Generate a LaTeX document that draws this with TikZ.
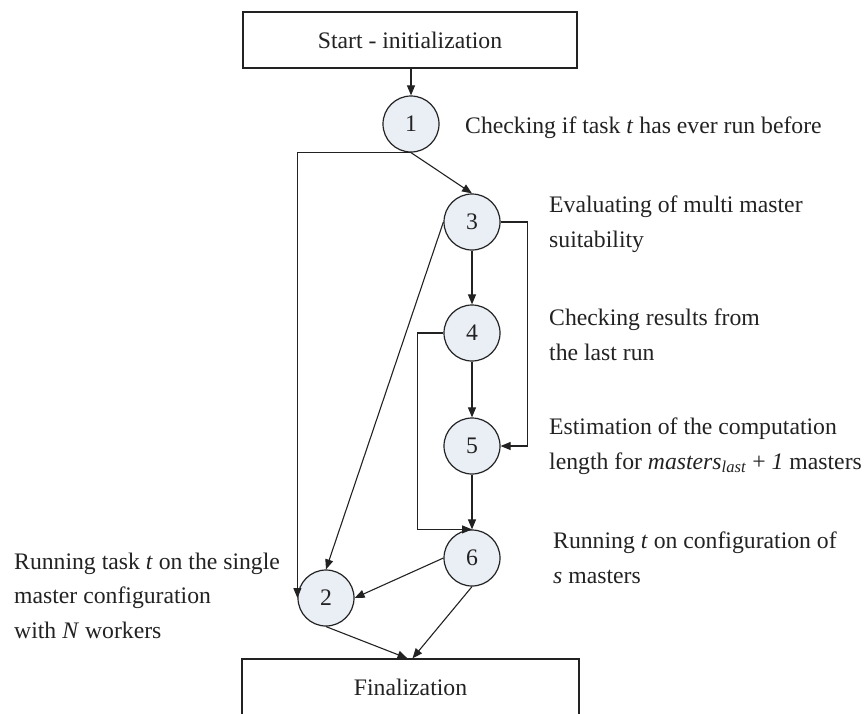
\documentclass[tikz,border=0pt]{standalone}
\usepackage{fontspec}
\setmainfont{Liberation Serif}
\usetikzlibrary{arrows.meta}
\definecolor{stepfill}{HTML}{EAEEF5}
\definecolor{ink}{HTML}{222222}
\tikzset{
  every node/.style={font=\fontsize{23.7}{34.5}\selectfont, text=ink},
  stepcirc/.style={circle, draw=ink, line width=1.2pt, fill=stepfill,
    minimum size=56pt, inner sep=0pt},
  stagebox/.style={rectangle, draw=ink, line width=1.2pt, fill=white,
    minimum height=56pt, inner sep=0pt},
  % base anchor of a multi-line note sits on its last line
  note/.style={anchor=base west, inner sep=0pt, align=left},
  flow/.style={draw=ink, line width=1.1pt, -{Triangle[length=10pt,width=8pt]}},
}
\begin{document}
\begin{tikzpicture}[x=1pt, y=-1pt]
  \useasboundingbox (0,0) rectangle (864,713);
  \clip (0,0) rectangle (864,713);

  % stage boxes
  \node[stagebox, minimum width=334pt] (start) at (410,40) {Start - initialization};
  \node[stagebox, minimum width=337pt] (fin) at (410.5,687) {Finalization};

  % numbered steps
  \node[stepcirc] (n1) at (411,124) {1};
  \node[stepcirc] (n3) at (472,222) {3};
  \node[stepcirc] (n4) at (472,333) {4};
  \node[stepcirc] (n5) at (472,446) {5};
  \node[stepcirc] (n6) at (472,558) {6};
  \node[stepcirc] (n2) at (326,598) {2};

  % descriptions
  \node[note] (d1) at (465,133) {Checking if task \textit{t} has ever run before};
  \node[note] (d3) at (549,247) {Evaluating of multi master\\suitability};
  \node[note] (d4) at (549,360) {Checking results from\\the last run};
  \node[note] (d5) at (549,469) {Estimation of the computation\\length for \textit{masters}\textsubscript{\textit{last}} + \textit{1} masters};
  \node[note] (d6) at (553,583) {Running \textit{t} on configuration of\\\textit{s} masters};
  \node[note] (d2) at (14,638) {Running task \textit{t} on the single\\master configuration\\with \textit{N} workers};

  % control flow
  \draw[flow] (start.south -| n1) -- (n1.north);
  \draw[flow] (n1.south) -| (n2.west);
  \draw[flow] (n1.south) -- (n3.north);
  \draw[flow] (n3.west) -- (n2.north);
  \draw[flow] (n3.south) -- (n4.north);
  \draw[flow] (n3.east) -- ++(27,0) |- (n5.east);
  \draw[flow] (n4.south) -- (n5.north);
  \draw[flow] (n4.west) -- ++(-26,0) |- (n6.north);
  \draw[flow] (n5.south) -- (n6.north);
  \draw[flow] (n6.west) -- (n2.east);
  \draw[flow] (n2.south) -- ([xshift=-3pt]fin.north);
  \draw[flow] (n6.south) -- ([xshift=2pt]fin.north);
\end{tikzpicture}
\end{document}
